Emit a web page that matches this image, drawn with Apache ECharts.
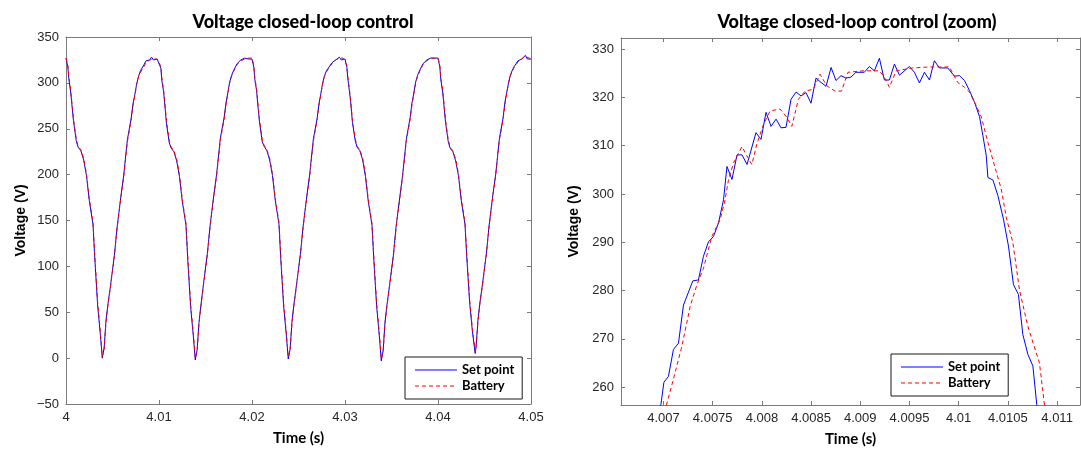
<!DOCTYPE html>
<html>
<head>
<meta charset="utf-8">
<script src="https://cdn.jsdelivr.net/npm/echarts@6.0.0/dist/echarts.min.js"></script>
<style>
  html, body { margin: 0; padding: 0; background: #ffffff; }
  #chart { width: 1081px; height: 452px; }
</style>
</head>
<body>
<div id="chart"></div>
<script>
// ---------------- DATA ----------------
const titleWide = 'Voltage closed-loop control';
const titleZoom = 'Voltage closed-loop control (zoom)';
const xName = 'Time (s)';
const yName = 'Voltage (V)';
const seriesNames = ['Set point', 'Battery'];

const xTicksWide = [4, 4.01, 4.02, 4.03, 4.04, 4.05];
const yTicksWide = [-50, 0, 50, 100, 150, 200, 250, 300, 350];
const xTicksZoom = [4.007, 4.0075, 4.008, 4.0085, 4.009, 4.0095, 4.01, 4.0105, 4.011];
const yTicksZoom = [260, 270, 280, 290, 300, 310, 320, 330];

// Wide view (4.00 .. 4.05 s)
const wideTime = [
  4.0000,4.0002,4.0003,4.0005,4.0006,4.0008,4.0011,4.0013,4.0016,4.0019,4.0022,4.0025,4.0029,4.0031,4.0034,4.0037,4.0039,4.0041,4.0043,4.0045,4.0048,4.0052,4.0055,4.0059,4.0062,4.0066,4.0070,4.0072,4.0074,4.0076,4.0078,4.0080,4.0082,4.0084,4.0086,4.0088,4.0090,4.0092,4.0094,4.0096,4.0098,
  4.0100,4.0102,4.0103,4.0105,4.0106,4.0108,4.0111,4.0113,4.0116,4.0119,4.0122,4.0125,4.0129,4.0131,4.0134,4.0137,4.0139,4.0141,4.0143,4.0145,4.0148,4.0152,4.0155,4.0159,4.0162,4.0166,4.0170,4.0172,4.0174,4.0176,4.0178,4.0180,4.0182,4.0184,4.0186,4.0188,4.0190,4.0192,4.0194,4.0196,4.0198,
  4.0200,4.0202,4.0203,4.0205,4.0206,4.0208,4.0211,4.0213,4.0216,4.0219,4.0222,4.0225,4.0229,4.0231,4.0234,4.0237,4.0239,4.0241,4.0243,4.0245,4.0248,4.0252,4.0255,4.0259,4.0262,4.0266,4.0270,4.0272,4.0274,4.0276,4.0278,4.0280,4.0282,4.0284,4.0286,4.0288,4.0290,4.0292,4.0294,4.0296,4.0298,
  4.0300,4.0302,4.0303,4.0305,4.0306,4.0308,4.0311,4.0313,4.0316,4.0319,4.0322,4.0325,4.0329,4.0331,4.0334,4.0337,4.0339,4.0341,4.0343,4.0345,4.0348,4.0352,4.0355,4.0359,4.0362,4.0366,4.0370,4.0372,4.0374,4.0376,4.0378,4.0380,4.0382,4.0384,4.0386,4.0388,4.0390,4.0392,4.0394,4.0396,4.0398,
  4.0400,4.0402,4.0403,4.0405,4.0406,4.0408,4.0411,4.0413,4.0416,4.0419,4.0422,4.0425,4.0429,4.0431,4.0434,4.0437,4.0440,4.0441,4.0443,4.0445,4.0448,4.0452,4.0455,4.0459,4.0462,4.0466,4.0470,4.0472,4.0474,4.0476,4.0478,4.0480,4.0482,4.0484,4.0486,4.0488,4.0490,4.0492,4.0494,4.0496,4.0498,
  4.0500
];
const setPointWide = [
  327,317,305,290,280,259,237,230,226,216,199,172,146,108,58,25,0,11,41,58,80,112,143,176,199,238,261,277,287,299,307,313,314,320,324,324,325,328,325,324,326,
  324,316,303,290,279,256,235,229,225,215,198,171,145,106,56,23,-2,9,39,57,82,114,145,178,201,240,262,278,289,301,308,313,317,321,323,325,326,327,328,326,327,
  326,317,304,291,279,258,236,231,226,216,199,172,146,107,57,24,-1,10,40,58,81,113,144,177,200,239,261,277,288,300,308,313,316,319,322,324,325,326,328,325,327,
  326,317,305,289,280,257,237,230,226,216,198,171,145,107,57,23,-3,8,39,57,80,112,144,176,200,239,262,278,289,301,308,313,317,321,323,325,326,327,326,327,326,
  327,317,304,290,280,258,236,229,225,215,199,172,146,109,61,29,5,13,42,60,82,114,145,178,200,239,262,279,290,301,309,314,318,321,324,325,326,328,330,326,327,
  326
];
const batteryWide = [
  327,319,307,292,282,261,239,231,227,218,201,174,148,111,61,28,2,10,39,57,79,111,142,175,197,236,259,275,286,298,307,311,315,318,322,324,325,326,326,325,326,
  325,318,306,292,281,259,237,230,226,217,200,173,147,109,59,26,0,8,37,56,81,113,144,177,199,238,260,276,288,300,307,312,316,320,322,324,326,326,327,327,327,
  327,319,306,293,281,260,238,232,227,218,201,174,148,110,60,27,1,9,38,57,80,112,143,176,198,237,259,276,287,299,307,312,315,318,321,323,325,326,327,326,327,
  327,319,307,291,282,259,239,231,227,218,200,173,147,110,60,26,-1,7,37,56,79,111,143,175,198,237,260,276,288,300,307,312,316,320,322,324,325,327,326,327,326,
  327,319,306,292,282,260,238,230,226,217,201,174,148,112,64,32,7,12,40,59,81,113,144,177,199,238,260,277,289,300,308,313,317,320,323,325,326,327,329,327,327,
  326
];

// Zoomed view (about 4.0066 .. 4.0112 s)
const zoomTimeSet = [
  4.00690,4.006973,4.007004,4.00705,4.007101,4.007152,4.007203,4.007298,4.007355,4.007406,4.007457,4.007508,4.007559,4.00761,
  4.007645,4.007696,4.007747,4.007798,4.007849,4.00794,4.007991,4.008042,4.008093,4.008144,4.008194,4.008245,4.008296,4.008347,
  4.008398,4.008448,4.008499,4.00855,4.008601,4.008652,4.008703,4.008753,4.008804,4.008855,4.008905,4.008956,4.009041,4.009092,
  4.009143,4.009194,4.009245,4.009296,4.009347,4.009398,4.009499,4.00955,4.009601,4.009652,4.009703,4.009753,4.009804,4.009889,
  4.009957,4.010008,4.010059,4.01011,4.010161,4.010212,4.010246,4.01028,4.010297,4.010348,4.010398,4.010455,4.010506,4.010557,
  4.010607,4.010652,4.010703,4.010754,4.010794,4.01082
];
const zoomSet = [
  252,256.3,261.0,262.2,267.8,269.1,277.0,282.0,282.2,287.1,290.1,291.2,294.0,298.8,
  305.7,303.0,308.1,308.1,306.1,312.7,311.3,316.9,314.0,315.5,313.7,313.8,319.6,321.1,
  320.3,321.0,318.8,324.0,323.1,322.3,326.2,323.5,324.5,324.0,324.2,325.2,325.2,326.4,
  325.5,328.1,323.6,323.6,326.9,324.6,326.4,325.2,323.0,325.2,323.6,327.6,326.1,326.1,
  324.4,324.5,323.5,321.4,319.0,316.0,312.1,308.0,303.4,302.9,299.7,294.8,289.2,281.2,
  279.2,270.9,266.8,264.4,256.3,252
];
const zoomTimeBat = [
  4.00698,4.00703,4.0071,4.007186,4.007271,4.007338,4.007406,4.007491,4.007576,4.007626,4.007661,4.007711,4.007797,4.007847,
  4.007898,4.007948,4.008016,4.008084,4.008185,4.008253,4.008304,4.008371,4.008439,4.008523,4.008591,4.008659,4.008743,4.008809,
  4.008875,4.009027,4.009194,4.009245,4.009296,4.009364,4.009533,4.009703,4.009906,4.00999,4.010059,4.01011,4.010178,4.010229,
  4.010297,4.010365,4.010433,4.010484,4.010551,4.010618,4.010703,4.010821,4.010872,4.0109
];
const zoomBat = [
  252,256.3,261.6,268.4,276.7,281.1,284.6,291.2,294.7,298.8,303.0,306.4,309.8,307.9,
  306.1,310.3,314.4,317.2,317.6,315.9,314.0,319.6,321.3,321.7,324.8,322.4,321.3,321.3,
  325.2,325.5,325.5,324.2,322.1,325.5,326.1,326.3,326.3,323.1,322.1,321.1,318.3,316.0,
  310.7,305.8,301.0,295.1,289.9,280.1,272.6,265.0,256.3,252
];

// ---------------- CHART ----------------
const pairs = (xs, ys) => xs.map((x, i) => [x, ys[i]]);
const AXIS_COLOR = '#7a7a7a';
const LABEL_COLOR = '#262626';
const BLUE = '#0000ff';
const RED = '#ff0000';
const DASH = [4, 3];
// legend icons: a thin horizontal bar (solid / dashed) inside a 42x14 frame
const ICON_SOLID = 'path://M0,0M42,14M0,6.4L42,6.4L42,7.6L0,7.6Z';
const ICON_DASHED = 'path://M0,0M42,14' +
  'M0,6.4L4,6.4L4,7.6L0,7.6Z M7,6.4L11,6.4L11,7.6L7,7.6Z M14,6.4L18,6.4L18,7.6L14,7.6Z' +
  'M21,6.4L25,6.4L25,7.6L21,7.6Z M28,6.4L32,6.4L32,7.6L28,7.6Z M35,6.4L39,6.4L39,7.6L35,7.6Z';
const fmtX = v => String(+(+v).toFixed(4));
const fmtY = v => (v < 0 ? '\u2212' + Math.abs(v) : String(+(+v).toFixed(2)));

function xAxisDef(grid, min, max, ticks, top) {
  return {
    type: 'value', gridIndex: grid, min: min, max: max,
    position: top ? 'top' : 'bottom',
    axisLine: { show: true, onZero: false, lineStyle: { color: AXIS_COLOR, width: 1 } },
    axisTick: { show: true, inside: true, length: 4, customValues: ticks, lineStyle: { color: AXIS_COLOR } },
    axisLabel: top ? { show: false } : {
      show: true, customValues: ticks, formatter: fmtX, margin: 7,
      color: LABEL_COLOR, fontFamily: 'Liberation Sans, Arial, sans-serif', fontSize: 13
    },
    splitLine: { show: false },
    name: top ? '' : xName, nameLocation: 'middle', nameGap: 27,
    nameTextStyle: { fontFamily: 'Lato, sans-serif', fontWeight: 'bold', fontSize: 15, color: '#000' }
  };
}
function yAxisDef(grid, min, max, ticks, right, gap) {
  return {
    type: 'value', gridIndex: grid, min: min, max: max,
    position: right ? 'right' : 'left',
    axisLine: { show: true, onZero: false, lineStyle: { color: AXIS_COLOR, width: 1 } },
    axisTick: { show: true, inside: true, length: 4, customValues: ticks, lineStyle: { color: AXIS_COLOR } },
    axisLabel: right ? { show: false } : {
      show: true, customValues: ticks, formatter: fmtY, margin: 7,
      color: LABEL_COLOR, fontFamily: 'Liberation Sans, Arial, sans-serif', fontSize: 13
    },
    splitLine: { show: false },
    name: right ? '' : yName, nameLocation: 'middle', nameGap: gap,
    nameTextStyle: { fontFamily: 'Liberation Sans, Arial, sans-serif', fontWeight: 'bold', fontSize: 14, color: '#000' }
  };
}
function legendDef(left, top) {
  return {
    data: [
      { name: seriesNames[0], icon: ICON_SOLID, itemStyle: { color: BLUE } },
      { name: seriesNames[1], icon: ICON_DASHED, itemStyle: { color: RED } }
    ],
    orient: 'vertical', left: left, top: top,
    itemWidth: 42, itemHeight: 14, itemGap: 2,
    padding: [6, 8, 6, 10],
    backgroundColor: '#ffffff', borderColor: '#1a1a1a', borderWidth: 1,
    textStyle: { fontFamily: 'Lato, sans-serif', fontWeight: 'bold', fontSize: 13, color: '#000' },
    selectedMode: false
  };
}
const blueStyle = { color: BLUE, width: 1, type: 'solid' };
const redStyle = { color: RED, width: 1, type: DASH };

function lineSeries(nameIdx, xIdx, yIdx, data, style, color, z) {
  return {
    name: seriesNames[nameIdx], type: 'line', xAxisIndex: xIdx, yAxisIndex: yIdx, data: data,
    symbol: 'none', lineStyle: style, itemStyle: { color: color },
    clip: true, z: z, silent: true
  };
}

const option = {
  backgroundColor: '#ffffff',
  animation: false,
  title: [
    { text: titleWide, left: 298, top: 8, textAlign: 'center',
      textStyle: { fontFamily: 'Lato, sans-serif', fontWeight: 900, fontSize: 18, color: '#000' } },
    { text: titleZoom, left: 852, top: 8, textAlign: 'center',
      textStyle: { fontFamily: 'Lato, sans-serif', fontWeight: 900, fontSize: 18, color: '#000' } }
  ],
  legend: [legendDef(405, 357), legendDef(891, 354)],
  grid: [
    { left: 66, top: 37, width: 465, height: 367, containLabel: false },
    { left: 621, top: 38, width: 459, height: 367, containLabel: false }
  ],
  xAxis: [
    xAxisDef(0, 4, 4.05, xTicksWide, false),
    xAxisDef(0, 4, 4.05, xTicksWide, true),
    xAxisDef(1, 4.006568, 4.011233, xTicksZoom, false),
    xAxisDef(1, 4.006568, 4.011233, xTicksZoom, true)
  ],
  yAxis: [
    yAxisDef(0, -50, 350, yTicksWide, false, 38),
    yAxisDef(0, -50, 350, yTicksWide, true, 0),
    yAxisDef(1, 256.3, 332.3, yTicksZoom, false, 40),
    yAxisDef(1, 256.3, 332.3, yTicksZoom, true, 0)
  ],
  series: [
    lineSeries(0, 0, 0, pairs(wideTime, setPointWide), blueStyle, BLUE, 2),
    lineSeries(1, 0, 0, pairs(wideTime, batteryWide), redStyle, RED, 3),
    lineSeries(0, 2, 2, pairs(zoomTimeSet, zoomSet), blueStyle, BLUE, 2),
    lineSeries(1, 2, 2, pairs(zoomTimeBat, zoomBat), redStyle, RED, 3)
  ]
};

const chart = echarts.init(document.getElementById('chart'), null, { renderer: 'canvas' });
chart.setOption(option);
</script>
</body>
</html>
